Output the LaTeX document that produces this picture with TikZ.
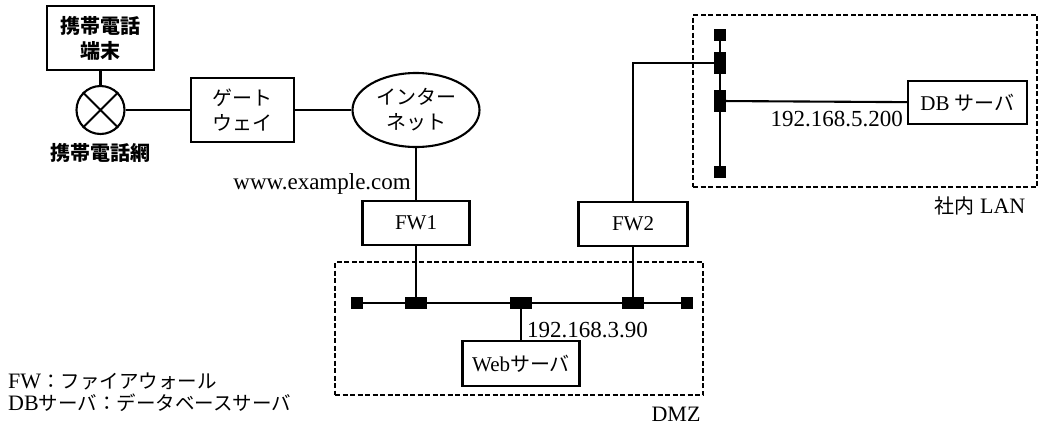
\documentclass[tikz,border=0pt]{standalone}
\usepackage{fontspec}
\setmainfont{Liberation Serif}
\newfontfamily\jp{Noto Sans CJK JP}
\usetikzlibrary{shapes.geometric}
\newcommand\jpt[1]{{\jp\fontsize{20}{25}\selectfont #1}}
\tikzset{
  ln/.style={line width=2.1pt},
  box/.style={draw, line width=2.1pt, inner sep=0pt, align=center, font=\fontsize{21}{25}\selectfont},
  zone/.style={draw, line width=2pt, dash pattern=on 5pt off 2.5pt, inner sep=0pt},
  term/.style={fill=black, minimum width=12pt, minimum height=12pt, inner sep=0pt},
  hjack/.style={fill=black, minimum width=22pt, minimum height=12pt, inner sep=0pt},
  vjack/.style={fill=black, minimum width=12pt, minimum height=22pt, inner sep=0pt},
  lbl/.style={inner sep=0pt, font=\fontsize{22}{25}\selectfont},
  iplbl/.style={inner sep=0pt, font=\fontsize{23}{25}\selectfont},
  jlbl/.style={inner sep=0pt, font=\fontsize{20}{25}\selectfont\jp},
}
\begin{document}
\begin{tikzpicture}[x=1pt,y=-1pt]
\useasboundingbox (0,0) rectangle (1038,424);
\fill[white] (0,0) rectangle (1038,424);

% zones
\node[zone, minimum width=368pt, minimum height=133pt] (dmz) at (519,328.5) {};
\node[zone, minimum width=344pt, minimum height=172pt] (lan) at (865,101) {};

% left part
\node[box, minimum width=107pt, minimum height=64pt, font=\fontsize{20}{25}\selectfont\jp\bfseries] (phone) at (100.5,38) {携帯電話\\端末};
\node[draw, ln, circle, minimum size=48pt, inner sep=0pt] (mnet) at (100.5,110) {};
\draw[ln] (mnet.45) -- (mnet.225) (mnet.135) -- (mnet.315);
\node[jlbl, font=\fontsize{20}{25}\selectfont\jp\bfseries] (mnetl) at (100,153) {携帯電話網};
\node[box, minimum width=103pt, minimum height=64pt, font=\fontsize{20}{25}\selectfont\jp] (gw) at (242.5,110) {ゲート\\ウェイ};
\node[draw, ln, ellipse, minimum width=127pt, minimum height=74pt, inner sep=0pt, align=center, font=\fontsize{20}{25}\selectfont\jp] (inet) at (416,110) {インター\\ネット};
\node[box, minimum width=107pt, minimum height=44pt] (fw1) at (416,223) {FW1};
\node[iplbl, anchor=east] (www) at (411,184) {www.example.com};
\node[box, minimum width=109pt, minimum height=44pt] (fw2) at (633,224) {FW2};

% DMZ bus
\node[term] (t1) at (357,303) {};
\node[hjack] (j1) at (416,303) {};
\node[hjack] (j2) at (521,303) {};
\node[hjack] (j3) at (633,303) {};
\node[term] (t2) at (687,303) {};
\draw[ln] (t1) -- (t2);
\node[box, minimum width=117pt, minimum height=45pt] (web) at (521,363.5) {Web\jpt{サーバ}};
\node[iplbl, anchor=west] (ipweb) at (527,330) {192.168.3.90};
\node[lbl] (dmzl) at (676,414) {DMZ};

% LAN bus
\node[term] (lt1) at (720,35) {};
\node[vjack] (lj1) at (720,63) {};
\node[vjack] (lj2) at (720,101) {};
\node[term] (lt2) at (720,172) {};
\draw[ln] (lt1) -- (lt2);
\node[box, minimum width=119pt, minimum height=43pt] (db) at (967.5,102.5) {DB \jpt{サーバ}};
\node[iplbl, anchor=east] (ipdb) at (903,119.5) {192.168.5.200};
\node[lbl] (lanl) at (980,206) {\jpt{社内} LAN};

% connectors
\draw[ln] (phone) -- (mnet);
\draw[ln] (mnet) -- (gw);
\draw[ln] (gw) -- (inet);
\draw[ln] (inet) -- (fw1);
\draw[ln] (fw1) -- (j1);
\draw[ln] (j2) -- (web);
\draw[ln] (j3) -- (fw2);
\draw[ln] (fw2.north) |- (lj1);
\draw[ln] (lj2) -- (db);

% legend
\node[inner sep=0pt, anchor=north west, align=left, font=\fontsize{22}{22}\selectfont] (legend) at (8,373)
  {FW{\jp\fontsize{19.5}{22}\selectfont ：ファイアウォール}\\DB{\jp\fontsize{19.5}{22}\selectfont サーバ：データベースサーバ}};
\end{tikzpicture}
\end{document}
